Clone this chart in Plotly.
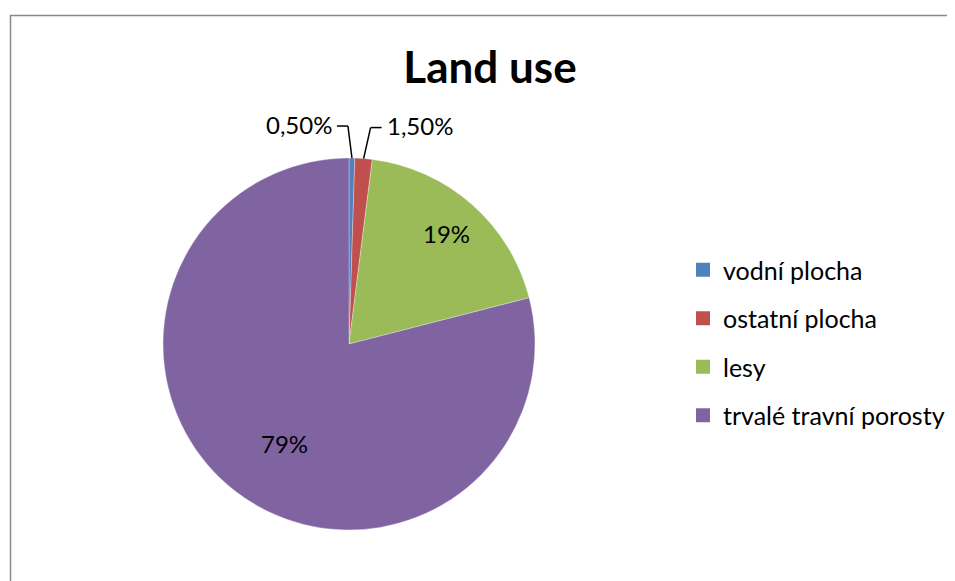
import math
import plotly.graph_objects as go

# ---- data ----
categories = ["vodní plocha", "ostatní plocha", "lesy", "trvalé travní porosty"]
values = [0.5, 1.5, 19, 79]
value_labels = ["0,50%", "1,50%", "19%", "79%"]
colors = ["#4F81BD", "#C0504D", "#9BBB59", "#8064A2"]
outside = [True, True, False, False]
title_text = "Land use"

# ---- layout constants ----
OFF = 8  # page body margin
W, H = 955 - OFF, 581 - OFF
CX, CY, R = 349, 344, 186
FONT = "Lato, Calibri, Carlito, sans-serif"
LABEL_SIZE = 24
INNER_FRAC = 0.79

def to_paper(px, py):
    return (px - OFF) / W, (H - (py - OFF)) / H

fig = go.Figure()
d0x, d0y = to_paper(CX - R, CY + R)
d1x, d1y = to_paper(CX + R, CY - R)
fig.add_trace(go.Pie(
    labels=categories, values=values, sort=False, direction="clockwise", rotation=0,
    marker=dict(colors=colors, line=dict(color="rgba(255,255,255,0.5)", width=0.6)),
    textinfo="none", hoverinfo="label+percent", showlegend=False,
    domain=dict(x=[d0x, d1x], y=[d0y, d1y]),
))

# legend entries via dummy traces
for cat, col in zip(categories, colors):
    fig.add_trace(go.Scatter(x=[None], y=[None], mode="markers", name=cat, legendgroup=cat,
                             marker=dict(symbol="square", size=14, color=col)))

# labels derived from data
total = sum(values)
cum = 0.0
annotations = []
shapes = []
side_count = 0
for i, v in enumerate(values):
    mid = (cum + v / 2) / total * 2 * math.pi
    cum += v
    if not outside[i]:
        px = CX + R * INNER_FRAC * math.sin(mid)
        py = CY - R * INNER_FRAC * math.cos(mid)
        x, y = to_paper(px, py)
        annotations.append(dict(x=x, y=y, xref="paper", yref="paper", text=value_labels[i],
                                showarrow=False, font=dict(family=FONT, size=LABEL_SIZE, color="black")))
    else:
        side = -1 if side_count == 0 else 1
        side_count += 1
        ex = CX + R * math.sin(mid)
        ey = CY - R * math.cos(mid)
        elx = ex + side * (4 if side < 0 else 7)
        ely = ey - 32 + (0 if side < 0 else 1)
        hx = elx + side * 11
        for (a, b, c, d) in [(ex, ey, elx, ely), (elx, ely, hx, ely)]:
            x0, y0 = to_paper(a, b)
            x1, y1 = to_paper(c, d)
            shapes.append(dict(type="line", xref="paper", yref="paper", x0=x0, y0=y0, x1=x1, y1=y1,
                               line=dict(color="black", width=1.5)))
        x, y = to_paper(hx + side * 3, ely - 2)
        annotations.append(dict(x=x, y=y, xref="paper", yref="paper", text=value_labels[i],
                                xanchor="right" if side < 0 else "left", yanchor="middle",
                                showarrow=False, font=dict(family=FONT, size=LABEL_SIZE, color="black")))

# chart border
bx0, by1 = to_paper(10.5, 15.5)
shapes.append(dict(type="rect", xref="paper", yref="paper", x0=bx0, x1=1.05,
                   y0=-0.05, y1=by1, line=dict(color="#888888", width=1.5),
                   fillcolor="rgba(0,0,0,0)", layer="below"))

tx, ty = to_paper(490, 68)
lx, ly = to_paper(683, 247)
fig.update_layout(
    width=W, height=H,
    margin=dict(l=0, r=0, t=0, b=0),
    paper_bgcolor="white", plot_bgcolor="white",
    title=dict(text="<b>" + title_text + "</b>", x=tx, xanchor="center",
               y=ty, yanchor="middle", yref="container",
               font=dict(family=FONT, size=44, color="black")),
    xaxis=dict(visible=False, domain=[0.99, 1.0]),
    yaxis=dict(visible=False, domain=[0.99, 1.0]),
    legend=dict(x=lx, xanchor="left", y=ly, yanchor="top",
                font=dict(family=FONT, size=25, color="black"),
                tracegroupgap=13, itemwidth=30, bgcolor="rgba(0,0,0,0)"),
    annotations=annotations,
    shapes=shapes,
)

fig.write_html("out.html")
